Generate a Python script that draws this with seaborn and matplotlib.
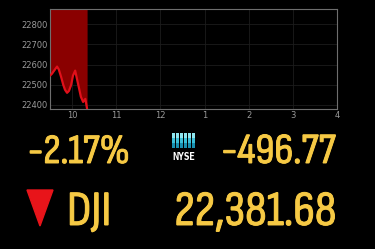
import matplotlib
matplotlib.use("Agg")
import matplotlib.pyplot as plt
import matplotlib.patheffects as pe
import seaborn as sns
import pandas as pd
from matplotlib.patches import Polygon, Rectangle

# Data
times = [9.50, 9.545, 9.61, 9.66, 9.70, 9.75, 9.80, 9.84, 9.886, 9.93, 9.98,
         10.02, 10.07, 10.11, 10.16, 10.20, 10.25, 10.30, 10.34]
values = [22545, 22555, 22575, 22590, 22575, 22540, 22500, 22475, 22460, 22470, 22500,
          22545, 22570, 22530, 22480, 22440, 22415, 22430, 22381]
x_ticks = [10, 11, 12, 13, 14, 15, 16]
x_labels = ["10", "11", "12", "1", "2", "3", "4"]
y_ticks = [22400, 22500, 22600, 22700, 22800]
pct_text = "-2.17%"
chg_text = "-496.77"
name_text = "DJI"
price_text = "22,381.68"

df = pd.DataFrame({"t": times, "v": values})

sns.set_style("dark")
W, H = 375, 249
fig = plt.figure(figsize=(W / 100, H / 100), dpi=100, facecolor="black")
ax = fig.add_axes([50 / W, 1 - 109 / H, 287 / W, 100 / H])
ax.set_facecolor("black")

ymin, ymax = 22380, 22875
ax.fill_between(df["t"], df["v"], ymax, color="#8a0000", lw=0, zorder=2)
sns.lineplot(data=df, x="t", y="v", ax=ax, color="#e0101a", lw=1.6, zorder=3)

ax.set_xlim(9.5, 16.0)
ax.set_ylim(ymin, ymax)
ax.set_xticks(x_ticks)
ax.set_xticklabels(x_labels)
ax.set_yticks(y_ticks)
ax.set_yticklabels([str(v) for v in y_ticks])
ax.tick_params(colors="#9a9a9a", labelsize=6, length=0, pad=1.5)
ax.set_xlabel("")
ax.set_ylabel("")
ax.grid(True, color="#1c1c1c", lw=0.6)
for s in ax.spines.values():
    s.set_visible(True)
    s.set_color("#6e6e6e")
    s.set_linewidth(0.8)
ax.set_axisbelow(True)

fam = "Sofia Sans Condensed"
yellow = "#f6c944"
thick = [pe.withStroke(linewidth=0.7, foreground=yellow)]

def fx(x):
    return x / W

def fy(y):
    return 1 - y / H

fig.text(fx(28), fy(163), pct_text, color=yellow, fontsize=30, family=fam,
         ha="left", va="baseline", path_effects=thick)
fig.text(fx(336), fy(163), chg_text, color=yellow, fontsize=31, family=fam,
         ha="right", va="baseline", path_effects=thick)
fig.text(fx(67), fy(225), name_text, color=yellow, fontsize=35.5, family=fam,
         ha="left", va="baseline", path_effects=thick)
fig.text(fx(336), fy(225), price_text, color=yellow, fontsize=35.5, family=fam,
         ha="right", va="baseline", path_effects=thick)

# red triangle
tri = Polygon([(fx(27), fy(190)), (fx(53), fy(190)), (fx(40), fy(226))],
              closed=True, transform=fig.transFigure, color="#e8141a")
fig.patches.append(tri)

# NYSE logo bars
for i in range(6):
    x0 = 172 + i * 4
    for j, c in enumerate(["#8fe6f0", "#3cc0d8", "#1890b0"]):
        r = Rectangle((fx(x0), fy(133 + (j + 1) * 5)), 2.6 / W, 5 / H,
                      transform=fig.transFigure, color=c, lw=0)
        fig.patches.append(r)
fig.text(fx(183.5), fy(160), "NYSE", color="white", fontsize=7,
         family="IBM Plex Sans Condensed", weight="bold", ha="center", va="baseline")

fig.savefig("out.png", dpi=100, facecolor="black")
